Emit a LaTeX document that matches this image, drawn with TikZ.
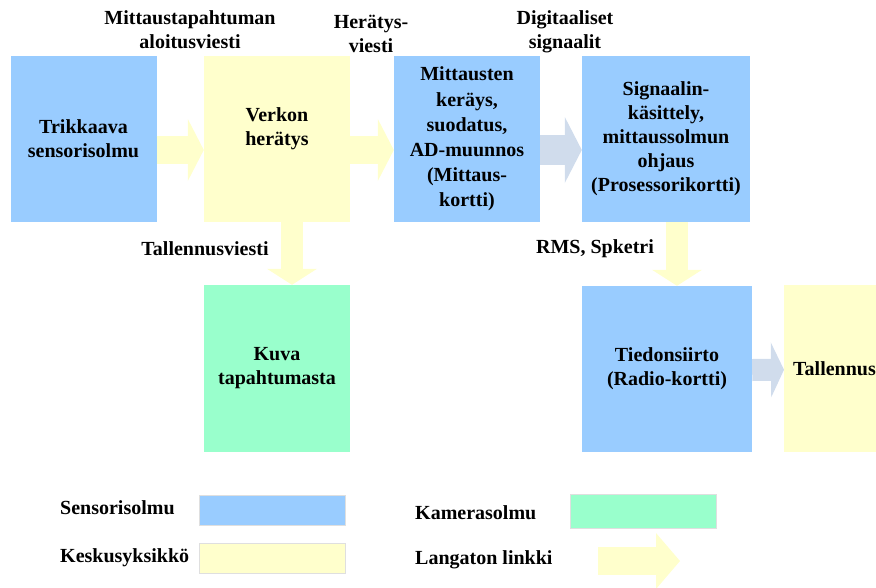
\documentclass[tikz,border=0pt]{standalone}
\usepackage{fontspec}
\setmainfont{Liberation Serif}
\usepackage{tikz}
\usetikzlibrary{arrows.meta}
\definecolor{sensblue}{HTML}{99CCFF}
\definecolor{centyel}{HTML}{FFFFCC}
\definecolor{camgreen}{HTML}{99FFCC}
\definecolor{datagray}{HTML}{D0DCEC}

\begin{document}
\begin{tikzpicture}[x=1pt,y=-1pt,
  every node/.style={font=\bfseries\fontsize{20}{24}\selectfont, align=center, inner sep=0pt},
  blk/.style={minimum width=146pt, minimum height=166pt},
  sensor/.style={blk, fill=sensblue},
  central/.style={blk, fill=centyel},
  camera/.style={blk, fill=camgreen},
  legbox/.style={draw=gray!25, line width=0.4pt, minimum width=146pt, minimum height=30pt},
  link/.style={draw=centyel, line width=28pt, -{Triangle[length=16pt 0, width=62pt 0, line width=0pt]}},
  vlink/.style={draw=centyel, line width=22pt, -{Triangle[length=16pt 0, width=50pt 0, line width=0pt]}},
  data/.style={draw=datagray, line width=30pt, -{Triangle[length=17pt 0, width=66pt 0, line width=0pt]}}]
\clip (0,0) rectangle (876,587);

% lohkot
\node[sensor] (trig) at (83.5,139) {Trikkaava\\sensorisolmu};
\node[central] (herat) at (277,139) {Verkon\\herätys\\\mbox{}};
\node[sensor, font=\bfseries\fontsize{20}{25.2}\selectfont] (meas) at (467,139) {Mittausten\\keräys,\\suodatus,\\AD-muunnos\\(Mittaus-\\kortti)};
\node[sensor, minimum width=168pt] (sig) at (666,139) {Signaalin-\\käsittely,\\mittaussolmun\\ohjaus\\(Prosessorikortti)};
\node[camera, minimum height=167pt] (kuva) at (277,368.5) {Kuva\\tapahtumasta};
\node[sensor, minimum width=170pt] (radio) at (667,369) {Tiedonsiirto\\(Radio-kortti)};
\node[central, anchor=north west, minimum width=170pt, minimum height=167pt, text width=152pt, align=left, inner xsep=9pt] (tall) at (784,285) {Tallennus};

% yhteydet
\draw[link] ([yshift=-11]trig.east) -- ([yshift=-11]herat.west);
\draw[link] ([yshift=-11]herat.east) -- ([yshift=-11]meas.west);
\draw[data] ([yshift=-11]meas.east) -- ([yshift=-11]sig.west);
\draw[vlink] ([xshift=15]herat.south) -- ([xshift=15]kuva.north);
\draw[vlink] ([xshift=11]sig.south) -- ([xshift=10]radio.north);
\draw[data, line width=22pt, -{Triangle[length=13pt 0, width=55pt 0, line width=0pt]}] ([yshift=-1]radio.east) -- ([yshift=-1]tall.west);

% viestit
\node (lstart) at (190,30) {Mittaustapahtuman\\aloitusviesti};
\node (lwake) at (371,34) {Herätys-\\viesti};
\node (ldig) at (565,32) {Digitaaliset\\signaalit};
\node (lrec) at (205,249) {Tallennusviesti};
\node (lrms) at (595,249) {RMS, Spketri};

% selitteet
\node[anchor=west] (tsens) at (60,508) {Sensorisolmu};
\node[legbox, fill=sensblue] (bsens) at (272,510) {};
\node[anchor=west] (tcent) at (60,558) {Keskusyksikkö};
\node[legbox, fill=centyel] (bcent) at (272,558) {};
\node[anchor=west] (tcam) at (415,513) {Kamerasolmu};
\node[legbox, fill=camgreen, minimum height=34pt] (bcam) at (643,511) {};
\node[anchor=west] (tlink) at (415,560) {Langaton linkki};
\coordinate (la) at (598,561);
\coordinate (lb) at (680,561);
\draw[link, -{Triangle[length=24pt 0, width=56pt 0, line width=0pt]}] (la) -- (lb);
\end{tikzpicture}
\end{document}
